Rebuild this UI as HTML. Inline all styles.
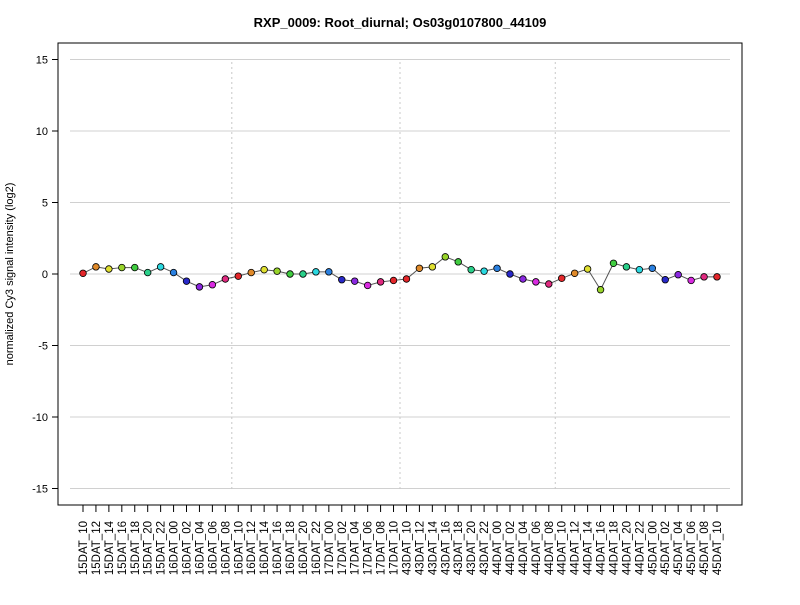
<!DOCTYPE html>
<html><head><meta charset="utf-8"><style>
body{margin:0;background:#fff;font-family:"Liberation Sans",Arial,sans-serif}
svg text{font-family:"Liberation Sans",Arial,sans-serif}
</style></head><body>
<svg id="chart" width="800" height="600" xmlns="http://www.w3.org/2000/svg">
<text x="400" y="27" text-anchor="middle" font-size="13" font-weight="bold">RXP_0009: Root_diurnal; Os03g0107800_44109</text>
<text transform="translate(13,274) rotate(-90)" text-anchor="middle" font-size="11">normalized Cy3 signal intensity (log2)</text>
<g id="grid"></g><g id="seps"></g><g id="axes"></g><g id="series"></g>
<rect x="58" y="43" width="684" height="462" fill="none" stroke="#000"/>
</svg>
<script>
const categories=["15DAT_10","15DAT_12","15DAT_14","15DAT_16","15DAT_18","15DAT_20","15DAT_22","16DAT_00","16DAT_02","16DAT_04","16DAT_06","16DAT_08","16DAT_10","16DAT_12","16DAT_14","16DAT_16","16DAT_18","16DAT_20","16DAT_22","17DAT_00","17DAT_02","17DAT_04","17DAT_06","17DAT_08","17DAT_10","43DAT_10","43DAT_12","43DAT_14","43DAT_16","43DAT_18","43DAT_20","43DAT_22","44DAT_00","44DAT_02","44DAT_04","44DAT_06","44DAT_08","44DAT_10","44DAT_12","44DAT_14","44DAT_16","44DAT_18","44DAT_20","44DAT_22","45DAT_00","45DAT_02","45DAT_04","45DAT_06","45DAT_08","45DAT_10"];
const values=[0.05,0.5,0.35,0.45,0.45,0.1,0.5,0.1,-0.5,-0.9,-0.75,-0.35,-0.15,0.1,0.3,0.2,0,0,0.15,0.15,-0.4,-0.5,-0.8,-0.55,-0.45,-0.35,0.4,0.5,1.2,0.85,0.3,0.2,0.4,0,-0.35,-0.55,-0.7,-0.3,0.05,0.35,-1.1,0.75,0.5,0.3,0.4,-0.4,-0.05,-0.45,-0.2,-0.2];
const yTicks=[-15,-10,-5,0,5,10,15];
const separators=[11.5,24.5,36.5];
const hourColors={"10":"#e3262a","12":"#e08a2a","14":"#e0e030","16":"#98d42a","18":"#40cc40","20":"#2ad08a","22":"#2ad8e0","00":"#2a80e0","02":"#2828c8","04":"#8a28e0","06":"#d82ae0","08":"#e02a80"};
const NS="http://www.w3.org/2000/svg";
const xs=i=>83+i*(634/(categories.length-1));
const ys=v=>274-v*(214.5/15);
function mk(t,a,p){const e=document.createElementNS(NS,t);for(const k in a)e.setAttribute(k,a[k]);p.appendChild(e);return e;}
const grid=document.getElementById('grid'),axes=document.getElementById('axes'),seps=document.getElementById('seps'),ser=document.getElementById('series');
yTicks.forEach(t=>{const y=ys(t);
const g=mk('line',{x1:70,x2:730,y1:y,y2:y,stroke:'#d0d0d0'},grid);


mk('line',{x1:52,x2:58,y1:y,y2:y,stroke:'#000'},axes);
const tx=mk('text',{x:48,y:y+4,'text-anchor':'end','font-size':11},axes);tx.textContent=t;

});
separators.forEach(s=>{const x=xs(s);
const l=mk('line',{x1:x,x2:x,y1:62,y2:490,stroke:'#c8c8c8','stroke-dasharray':'2,3'},seps);

});
categories.forEach((c,i)=>{const x=xs(i);
mk('line',{x1:x,x2:x,y1:505,y2:512,stroke:'#000'},axes);
const tx=mk('text',{transform:`translate(${x+4},521) rotate(-90)`,'text-anchor':'end','font-size':11.5},axes);tx.textContent=c;

});
const pts=values.map((v,i)=>xs(i)+','+ys(v)).join(' ');
const pl=mk('polyline',{points:pts,fill:'none',stroke:'#555','stroke-width':1},ser);


values.forEach((v,i)=>{const h=categories[i].slice(-2);
const c=mk('circle',{cx:xs(i),cy:ys(v),r:3.3,fill:hourColors[h],stroke:'#000','stroke-width':0.8},ser);

});
</script>
</body></html>
